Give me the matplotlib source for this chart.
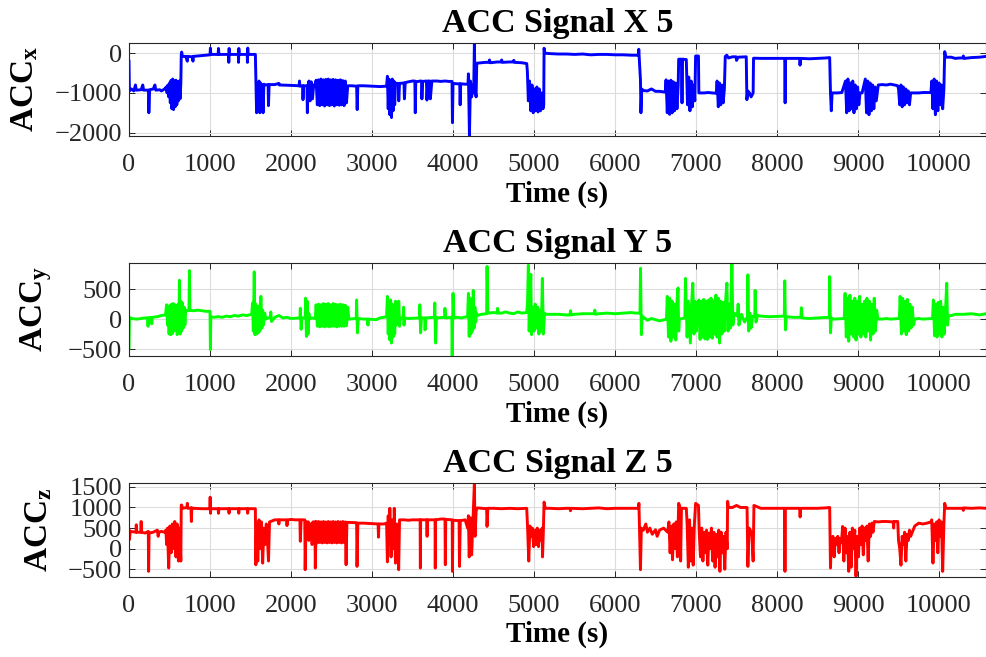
import matplotlib
matplotlib.use("Agg")
import matplotlib.pyplot as plt

plt.rcParams["font.family"] = ["Liberation Serif", "DejaVu Serif"]
plt.rcParams["mathtext.fontset"] = "custom"
plt.rcParams["mathtext.rm"] = "Liberation Serif"
plt.rcParams["mathtext.bf"] = "Liberation Serif:bold"

# (time s, value) breakpoints
acc_x_pts = [
    (0, -200), (5, -950), (30, -900), (60, -950), (80, -800), (90, -930), (150, -920),
    (170, -800), (180, -930), (240, -930), (245, -1500), (255, -920), (300, -900),
    (320, -800), (330, -930), (380, -920), (400, -950), (440, -900), (460, -850),
    (470, -1000), (480, -800), (490, -1100), (500, -750), (510, -1250), (520, -680),
    (530, -1400), (540, -650), (550, -1420), (560, -700), (570, -1350), (580, -680),
    (590, -1300), (600, -720), (610, -1200), (620, -700), (630, -1150), (640, -750),
    (645, -40), (650, 30), (660, -80), (700, -80), (720, -200), (725, -80), (780, -90),
    (790, -200), (795, -80), (850, -70), (900, -60), (950, -50), (1000, -40),
    (1005, 130), (1010, -30), (1100, -30), (1105, 120), (1110, -30), (1230, -30),
    (1232, -230), (1236, 120), (1240, -30), (1350, -30), (1352, -230), (1356, 120),
    (1360, -30), (1460, -30), (1462, -230), (1466, 130), (1470, -30), (1560, -30),
    (1566, -670), (1575, -1500), (1585, -800), (1595, -1450), (1605, -700),
    (1615, -1500), (1625, -750), (1635, -1350), (1645, -800), (1655, -1500),
    (1665, -780), (1680, -800), (1717, -790), (1722, -1320), (1730, -790), (1800, -790),
    (1850, -760), (1855, -800), (2000, -810), (2099, -820), (2105, -700), (2110, -830),
    (2143, -820), (2148, -1170), (2155, -820), (2197, -820), (2202, -1500), (2210, -820),
    (2222, -700), (2235, -1200), (2250, -720), (2265, -1150), (2280, -800), (2295, -820),
    (2310, -680), (2325, -1300), (2340, -670), (2355, -1320), (2370, -650),
    (2385, -1300), (2400, -670), (2415, -1330), (2430, -660), (2445, -1300),
    (2460, -650), (2475, -1320), (2490, -670), (2505, -1300), (2520, -660),
    (2535, -1330), (2550, -670), (2565, -1300), (2580, -680), (2595, -1310),
    (2610, -670), (2625, -1300), (2640, -690), (2655, -1320), (2670, -700),
    (2685, -1250), (2700, -820), (2750, -820), (2810, -830), (2817, -1420),
    (2825, -820), (2900, -820), (3000, -830), (3100, -840), (3180, -830),
    (3190, -580), (3200, -1400), (3210, -650), (3220, -1550), (3230, -700),
    (3240, -1620), (3250, -650), (3260, -1450), (3270, -700), (3280, -1300),
    (3290, -750), (3300, -760), (3325, -760), (3330, -1200), (3340, -760),
    (3395, -750), (3400, -1150), (3410, -740), (3450, -720), (3500, -700),
    (3529, -700), (3534, -1500), (3540, -720), (3600, -700), (3611, -700),
    (3616, -1150), (3625, -710), (3672, -700), (3678, -1180), (3690, -700),
    (3715, -700), (3720, -1150), (3739, -700), (3800, -700), (3850, -710),
    (3900, -700), (3950, -710), (3988, -710), (3993, -1750), (4000, -760),
    (4050, -770), (4083, -770), (4088, -1300), (4095, -770), (4150, -780),
    (4185, -780), (4190, -520), (4203, -2080), (4215, -700),
    (4230, -1100), (4245, -800), (4255, -1000), (4264, 267), (4272, -900),
    (4285, -1100), (4293, -250), (4300, -250), (4400, -230), (4445, -230), (4450, -170),
    (4460, -240), (4550, -220), (4595, -220), (4600, -170), (4610, -230), (4700, -220),
    (4745, -220), (4750, -180), (4760, -230), (4850, -240), (4910, -260), (4918, -460),
    (4930, -1200), (4945, -700), (4960, -1450), (4975, -800), (4990, -1500),
    (5005, -900), (5020, -1450), (5035, -850), (5050, -1480), (5065, -900),
    (5080, -1450), (5095, -1000), (5110, -1400), (5120, -1300), (5124, 125),
    (5135, 0), (5200, -10), (5300, -20), (5400, -20), (5500, -30), (5600, -20),
    (5700, -40), (5800, -30), (5900, -30), (6000, -40), (6100, -40), (6200, -50),
    (6290, -50), (6293, 100), (6314, -670), (6320, -1500), (6330, -900),
    (6350, -940), (6400, -950), (6450, -900), (6500, -960), (6550, -960),
    (6620, -980), (6630, -670), (6645, -1500), (6660, -700), (6675, -1540),
    (6690, -680), (6705, -1500), (6720, -720), (6735, -1450), (6750, -750),
    (6765, -1400), (6780, -800), (6786, -150), (6820, -150), (6827, -1250),
    (6834, -150), (6880, -160), (6895, -1300), (6910, -600), (6925, -1450),
    (6940, -700), (6955, -1350), (6970, -800), (6985, -1200), (6995, -70),
    (7030, -70), (7035, -1000), (7100, -1000), (7150, -990), (7200, -1000),
    (7250, -1010), (7260, -700), (7275, -1350), (7290, -750), (7305, -1300),
    (7320, -800), (7335, -1250), (7350, -900), (7361, -80), (7380, -50),
    (7400, -120), (7450, -90), (7495, -90), (7500, -180), (7520, -100), (7620, -90),
    (7628, -1170), (7640, -950), (7660, -1000), (7680, -1100), (7705, -1000), (7710, -125),
    (7800, -130), (7900, -130), (8095, -130), (8100, -1250), (8105, -130),
    (8280, -130), (8284, -300), (8290, -130), (8400, -140), (8500, -130),
    (8600, -120), (8650, -110), (8660, -1000), (8670, -1450), (8680, -1000),
    (8750, -1000), (8800, -990), (8845, -700), (8860, -1500), (8875, -650),
    (8890, -1450), (8905, -750), (8920, -1400), (8935, -700), (8950, -1500),
    (8965, -800), (8980, -1400), (8995, -850), (9010, -1300), (9025, -1000),
    (9050, -1000), (9090, -650), (9105, -1500), (9120, -700), (9135, -1550),
    (9150, -750), (9165, -1450), (9180, -800), (9195, -1400), (9210, -850),
    (9225, -1200), (9250, -800), (9300, -790), (9350, -800), (9400, -780),
    (9450, -800), (9490, -820), (9500, -900), (9515, -1300), (9530, -800),
    (9545, -1350), (9560, -850), (9575, -1300), (9590, -900), (9605, -1250),
    (9620, -950), (9635, -1300), (9650, -1000), (9700, -1000), (9750, -1000),
    (9800, -990), (9900, -990), (9910, -700), (9925, -1400), (9940, -650), (9955, -1550),
    (9970, -700), (9985, -1450), (10000, -750), (10015, -1300), (10030, -800),
    (10045, -1400), (10060, -900), (10070, 40), (10085, -100), (10150, -100),
    (10200, -130), (10250, -120), (10295, -120), (10300, -70), (10310, -130), (10400, -110),
    (10500, -100), (10580, -80),
]

acc_y_pts = [
    (0, -480), (5, 30), (30, 10), (100, 0), (150, 10), (200, 20), (230, 20), (235, -120),
    (240, 20), (275, 30), (280, -80), (290, 30), (350, 40), (400, 60), (450, 70),
    (465, 240), (475, -100), (485, 200), (495, -250), (505, 230), (515, -260),
    (525, 250), (535, -240), (545, 260), (555, -200), (565, 240), (575, -150),
    (585, 200), (595, -260), (605, 250), (615, -200), (623, 650), (630, -250),
    (640, 300), (650, -200), (660, 270), (670, -150), (680, 200), (690, -100),
    (700, 150), (720, 140), (740, 150), (746, 810), (752, 145), (800, 140),
    (850, 150), (900, 140), (950, 130), (1000, 130), (1005, -510), (1010, 40),
    (1050, 30), (1100, 40), (1150, 30), (1200, 50), (1250, 40), (1300, 60),
    (1350, 50), (1400, 70), (1450, 60), (1515, 80), (1525, 270), (1535, -200),
    (1546, 790), (1555, -260), (1565, 250), (1575, -250), (1585, 200),
    (1595, -230), (1605, 220), (1615, -200), (1628, 380), (1640, -150),
    (1650, 150), (1660, -100), (1675, 100), (1690, 0), (1700, 20), (1745, 20), (1750, 120),
    (1760, -40), (1800, 30), (1850, 60), (1900, 20), (1950, 30), (2000, 10),
    (2110, 20), (2115, 180), (2125, -170), (2135, 20), (2175, 20), (2180, 350), (2190, -290),
    (2200, 300), (2210, -250), (2220, 100), (2230, 0), (2250, 20), (2300, 10),
    (2310, 240), (2325, -120), (2340, 250), (2355, -130), (2370, 240),
    (2385, -120), (2400, 260), (2415, -130), (2430, 250), (2445, -120),
    (2460, 260), (2475, -130), (2490, 240), (2505, -120), (2520, 260),
    (2535, -120), (2550, 250), (2565, -130), (2580, 240), (2595, -120),
    (2610, 250), (2625, -120), (2640, 240), (2655, -120), (2670, 230),
    (2685, -110), (2700, 200), (2714, 0), (2805, 10), (2810, 320), (2820, -230),
    (2830, 10), (2900, 0), (2945, 0), (2950, -100), (2955, 0), (3050, -10), (3100, 20),
    (3180, 40), (3190, 380), (3200, -250), (3210, 300), (3220, -350),
    (3230, 320), (3240, -400), (3250, 250), (3260, -300), (3270, 200),
    (3280, -250), (3290, 300), (3300, -100), (3310, 30), (3325, 30), (3330, 300),
    (3340, -120), (3350, 20), (3385, 20), (3390, 200), (3395, -100), (3400, 20), (3450, 10),
    (3585, 20), (3590, 240), (3600, -230), (3610, 20), (3650, 20), (3655, -180), (3665, 20),
    (3770, 30), (3775, 270), (3785, -400), (3795, 20), (3895, 30), (3900, 180),
    (3910, 20), (3985, 30), (3990, -620), (4000, 430), (4010, 20), (4050, 30),
    (4100, 20), (4180, 40), (4190, 430), (4200, -290), (4210, 350), (4220, -250),
    (4230, 300), (4240, -200), (4250, 480), (4260, -150), (4270, 200),
    (4280, -50), (4290, 100), (4300, 60), (4350, 80), (4415, 90), (4420, 880),
    (4430, 100), (4500, 110), (4545, 100), (4550, 180), (4560, 100), (4600, 100), (4650, 120),
    (4700, 100), (4750, 90), (4800, 120), (4850, 100), (4910, 110), (4920, 270),
    (4930, 900), (4940, -200), (4950, 250), (4960, 750), (4970, -260),
    (4985, 200), (5000, -200), (5015, 250), (5030, -150), (5045, 200),
    (5060, -250), (5075, 150), (5090, -200), (5103, 680), (5115, -250),
    (5130, 100), (5145, 80), (5200, 80), (5300, 80), (5400, 70), (5445, 70), (5450, 140),
    (5460, 70), (5500, 80), (5600, 90), (5700, 90), (5745, 90), (5750, 150), (5760, 80),
    (5800, 90), (5900, 100), (6000, 90), (6100, 100), (6200, 110), (6250, 100),
    (6308, 100), (6315, 850), (6325, -260), (6335, 50), (6400, -20), (6450, 10),
    (6500, -10), (6550, -30), (6635, 0), (6645, 380), (6660, -300), (6675, 350),
    (6690, -370), (6705, 300), (6720, -300), (6735, 250), (6750, -350),
    (6765, 300), (6778, 520), (6786, -200), (6795, 0), (6862, 20), (6870, 680),
    (6890, -300), (6905, 300), (6930, -400), (6945, 250), (6960, 600),
    (6975, -250), (6990, 300), (7005, -200), (7020, 200), (7035, 320),
    (7050, -340), (7065, 300), (7080, -300), (7095, 330), (7110, -330),
    (7125, 300), (7140, -340), (7155, 320), (7170, -300), (7185, 350),
    (7200, -320), (7215, 300), (7230, -250), (7245, 400), (7260, -300),
    (7275, 350), (7290, -400), (7305, 300), (7320, -250), (7335, 280),
    (7350, -200), (7365, 300), (7381, 600), (7395, -200), (7410, 250),
    (7425, -150), (7443, 940), (7455, -100), (7470, 100), (7510, 50),
    (7520, 250), (7530, -100), (7560, 80), (7600, -50), (7635, 40), (7640, 740),
    (7650, -200), (7665, 100), (7680, -150), (7700, 50), (7725, 40), (7730, 480),
    (7740, -50), (7760, 60), (7800, 50), (7900, 40), (8090, 50), (8095, 640),
    (8105, -180), (8115, 40), (8200, 30), (8295, 30), (8300, 190), (8310, 20), (8400, 10),
    (8500, 20), (8645, 30), (8650, 710), (8660, -230), (8670, 20), (8700, 0),
    (8830, 10), (8840, 430), (8855, -300), (8870, 350), (8885, -370),
    (8900, 400), (8915, -250), (8930, 300), (8945, -300), (8960, 350),
    (8975, -350), (8990, 300), (9005, -250), (9020, 380), (9035, -300),
    (9050, 250), (9065, -250), (9080, 300), (9095, -300), (9110, 350),
    (9125, -200), (9140, 300), (9155, -350), (9170, 250), (9185, -250),
    (9200, 350), (9215, -200), (9230, 150), (9245, 0), (9300, 0), (9350, 10),
    (9400, 0), (9510, 10), (9520, 380), (9535, -250), (9550, 350), (9565, -200),
    (9580, 300), (9595, -260), (9610, 330), (9625, -200), (9640, 250),
    (9655, -150), (9670, 200), (9685, -100), (9700, 0), (9750, 10), (9800, 0),
    (9920, 10), (9930, 320), (9945, -280), (9960, 250), (9975, -300),
    (9990, 280), (10005, -250), (10020, 300), (10035, -300), (10050, 200),
    (10065, -250), (10080, 150), (10095, 600), (10105, -100), (10115, 50),
    (10150, 60), (10200, 80), (10300, 80), (10400, 90), (10500, 70), (10580, 90),
]

acc_z_pts = [
    (0, 460), (5, 220), (15, 420), (85, 400), (90, 580), (95, 400), (145, 400), (150, 660),
    (155, 400), (200, 380), (238, 420), (242, -550), (248, 380), (300, 400),
    (350, 450), (360, 300), (370, 400), (400, 420), (440, 400), (455, 450),
    (465, 100), (475, 500), (490, -470), (505, 550), (520, -100), (535, 600),
    (550, 0), (565, 660), (580, -200), (595, 600), (610, -300), (625, 500),
    (640, -300), (645, 1060), (650, 1060), (660, 980), (715, 1000), (720, 1100),
    (725, 980), (765, 990), (770, 660), (775, 990), (800, 980), (900, 970),
    (998, 970), (1002, 1250), (1006, 860), (1010, 970), (1100, 970),
    (1105, 860), (1110, 970), (1230, 970), (1235, 860), (1240, 970),
    (1350, 970), (1355, 860), (1360, 970), (1460, 970), (1465, 860),
    (1470, 970), (1560, 970), (1566, -390), (1575, 600), (1590, -300),
    (1605, 700), (1620, 0), (1635, 650), (1650, -350), (1665, 500), (1680, 100),
    (1695, 600), (1710, 200), (1722, -300), (1735, 650), (1800, 700),
    (1845, 700), (1850, 600), (1855, 700), (1900, 700), (1945, 700), (1950, 560), (1960, 700),
    (2000, 710), (2050, 700), (2110, 700), (2115, 180), (2125, 700),
    (2170, 700), (2175, -510), (2185, 650), (2215, 650), (2220, 200), (2230, 600),
    (2255, 600), (2260, 100), (2270, 650), (2295, 650), (2300, -470), (2310, 660),
    (2325, 140), (2340, 660),
    (2355, 150), (2370, 650), (2385, 140), (2400, 660), (2415, 150),
    (2430, 650), (2445, 140), (2460, 660), (2475, 150), (2490, 650),
    (2505, 140), (2520, 660), (2535, 150), (2550, 650), (2565, 140),
    (2580, 660), (2595, 150), (2610, 650), (2625, 140), (2640, 660),
    (2655, 150), (2670, 650), (2680, -390), (2690, 640), (2810, 630),
    (2815, -430), (2825, 620), (2900, 620), (3000, 610), (3075, 600),
    (3080, 280), (3085, 600), (3150, 600), (3180, 620), (3190, -320),
    (3200, 800), (3210, 100), (3220, 980), (3235, -200), (3250, 700),
    (3265, 0), (3275, 980), (3290, -350), (3305, 600), (3320, 200),
    (3329, -510), (3340, 700), (3400, 700), (3450, 690), (3500, 700),
    (3594, 700), (3597, -470), (3600, 700), (3676, 700), (3680, 300),
    (3684, 700), (3778, 700), (3781, -470), (3785, 700), (3850, 720),
    (3901, 720), (3905, -390), (3910, 710), (3990, 700), (3993, -550),
    (3998, 690), (4075, 680), (4080, -430), (4090, 680), (4150, 700),
    (4180, 500), (4190, 800), (4200, -200), (4215, 750), (4230, -150),
    (4245, 600), (4255, 1100), (4264, 1600), (4272, 300), (4285, 900),
    (4293, 980), (4300, 990), (4415, 970), (4420, 540), (4430, 980),
    (4500, 980), (4600, 970), (4700, 980), (4800, 970), (4910, 980),
    (4920, 540), (4935, -300), (4950, 550), (4965, 300), (4980, 500),
    (4995, 50), (5010, 450), (5025, 100), (5040, 500), (5055, 50), (5070, 450),
    (5085, 200), (5100, 500), (5105, -200), (5115, 400), (5124, 1130),
    (5140, 980), (5200, 980), (5300, 970), (5400, 980), (5445, 980), (5450, 920),
    (5455, 980), (5600, 970), (5700, 980), (5800, 990), (5900, 970),
    (6000, 980), (6100, 980), (6200, 980), (6290, 980), (6295, 1100),
    (6314, -510), (6325, 500), (6350, 450), (6380, 600), (6400, 400),
    (6430, 500), (6460, 350), (6500, 460), (6520, 300), (6550, 450),
    (6600, 500), (6650, 400), (6665, 650), (6680, -100), (6695, 550),
    (6710, -270), (6725, 600), (6740, 0), (6755, 650), (6770, -200),
    (6786, 1100), (6805, 980), (6810, -300), (6820, 980), (6880, 980),
    (6890, 600), (6905, -450), (6920, 700), (6935, -300), (6950, 500),
    (6965, -400), (6980, 600), (6995, 1100), (7030, 1050), (7040, 380),
    (7055, -200), (7070, 500), (7085, -300), (7100, 400), (7115, -100),
    (7130, 450), (7145, -400), (7160, 380), (7175, 0), (7190, 500),
    (7205, -300), (7220, 400), (7235, -450), (7250, 350), (7265, -200),
    (7280, 450), (7295, -550), (7310, 400), (7325, -100), (7340, 300),
    (7355, -500), (7370, 400), (7385, 0), (7390, 1150), (7400, 1000),
    (7450, 1000), (7500, 1050), (7550, 1000), (7630, 1000), (7640, -430),
    (7655, 500), (7670, 450), (7690, 300), (7705, -300), (7715, 1050),
    (7800, 980), (7900, 980), (8000, 980), (8094, 980), (8098, -550),
    (8102, 980), (8200, 980), (8280, 980), (8285, 770), (8290, 980),
    (8400, 980), (8500, 980), (8600, 990), (8650, 1000), (8660, -470),
    (8670, 200), (8690, 300), (8705, -200), (8720, 250), (8735, 100),
    (8750, 300), (8765, -100), (8780, 250), (8795, 150), (8810, 540),
    (8825, -300), (8840, 500), (8855, -100), (8870, 300), (8885, -550),
    (8900, 400), (8915, -450), (8930, 500), (8945, 0), (8960, 450),
    (8975, -670), (8990, 300), (9005, -200), (9020, 500), (9035, 100),
    (9050, 550), (9065, -150), (9080, 500), (9095, 200), (9110, 550),
    (9125, -300), (9140, 600), (9155, 300), (9170, 620), (9185, 400),
    (9200, 660), (9250, 650), (9300, 660), (9350, 660), (9435, 650),
    (9440, 500), (9445, 660), (9490, 660), (9500, 200), (9515, 0),
    (9530, -400), (9545, 300), (9560, 100), (9575, 400), (9590, -300),
    (9605, 350), (9620, 200), (9635, 450), (9650, 300), (9700, 550),
    (9750, 620), (9800, 600), (9850, 620), (9900, 650), (9910, 700),
    (9925, -350), (9940, 600), (9955, 200), (9970, 650), (9985, -100),
    (10000, 700), (10015, 300), (10030, 650), (10045, -550), (10060, 600),
    (10070, 1100), (10085, 980), (10200, 980), (10295, 980), (10300, 930), (10305, 990),
    (10400, 980), (10500, 990), (10580, 980),
]

titles = ["ACC Signal X 5", "ACC Signal Y 5", "ACC Signal Z 5"]
ylabels = [r"$\mathbf{ACC_{x}}$", r"$\mathbf{ACC_{y}}$", r"$\mathbf{ACC_{z}}$"]
xticks = [0, 1000, 2000, 3000, 4000, 5000, 6000, 7000, 8000, 9000, 10000]
yticks = [[-2000, -1000, 0], [-500, 0, 500], [-500, 0, 500, 1000, 1500]]
ylims = [(-2085, 265), (-617, 942), (-680, 1600)]
colors = ["#0000ff", "#00ff00", "#ff0000"]
series = [acc_x_pts, acc_y_pts, acc_z_pts]

fig = plt.figure(figsize=(9.87, 6.57), dpi=100)
boxes = [
    [0.1307, 0.793, 0.8683, 0.142],
    [0.1307, 0.4581, 0.8683, 0.142],
    [0.1307, 0.1222, 0.8683, 0.143],
]
dark = "#262626"

for i in range(3):
    ax = fig.add_axes(boxes[i])
    t, v = zip(*series[i])
    ax.plot(t, v, color=colors[i], lw=2.1)
    ax.set_xlim(0, 10580)
    ax.set_ylim(*ylims[i])
    ax.set_xticks(xticks)
    ax.set_yticks(yticks[i])
    ax.grid(True, color="#dcdcdc", lw=0.8)
    ax.set_axisbelow(True)
    ax.tick_params(direction="in", length=4, width=0.7, colors=dark,
                   labelsize=19, top=True, right=True, labelcolor=dark)
    ax.tick_params(axis="x", pad=13)
    ax.tick_params(axis="y", pad=5)
    for s in ax.spines.values():
        s.set_color(dark)
        s.set_linewidth(0.8)
    ax.set_title(titles[i], fontsize=24.5, fontweight="bold", pad=8)
    ax.set_xlabel("Time (s)", fontsize=21, fontweight="bold", labelpad=3)
    ax.set_ylabel(ylabels[i], fontsize=24, labelpad=10)

fig.savefig("out.png", dpi=100)
